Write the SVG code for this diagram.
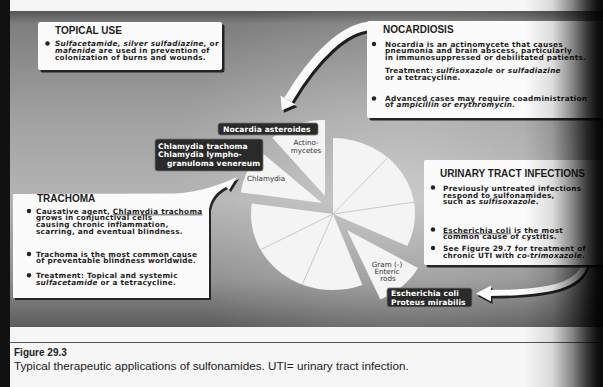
<svg xmlns="http://www.w3.org/2000/svg" width="603" height="387" viewBox="0 0 603 387">
<defs>
  <linearGradient id="panelG" x1="0" y1="11" x2="0" y2="327" gradientUnits="userSpaceOnUse">
    <stop offset="0" stop-color="#555"/>
    <stop offset="0.04" stop-color="#7e7e7e"/>
    <stop offset="0.35" stop-color="#a2a2a2"/>
    <stop offset="0.6" stop-color="#b4b4b4"/>
    <stop offset="0.85" stop-color="#8f8f8f"/>
    <stop offset="1" stop-color="#5c5c5c"/>
  </linearGradient>
  <radialGradient id="glow" cx="400" cy="190" r="230" gradientUnits="userSpaceOnUse">
    <stop offset="0" stop-color="#fff" stop-opacity="0.3"/>
    <stop offset="1" stop-color="#fff" stop-opacity="0"/>
  </radialGradient>
  <linearGradient id="edgeG" x1="525" y1="0" x2="603" y2="0" gradientUnits="userSpaceOnUse">
    <stop offset="0" stop-color="#000" stop-opacity="0"/>
    <stop offset="0.35" stop-color="#000" stop-opacity="0.12"/>
    <stop offset="0.6" stop-color="#000" stop-opacity="0.45"/>
    <stop offset="0.8" stop-color="#000" stop-opacity="0.78"/>
    <stop offset="0.92" stop-color="#000" stop-opacity="0.93"/>
    <stop offset="1" stop-color="#000" stop-opacity="0.97"/>
  </linearGradient>
  <style>
    .title{font-family:"Liberation Sans",Arial,sans-serif;font-weight:bold;font-size:10px;fill:#1e1e1e}
    .body{font-family:"DejaVu Sans",sans-serif;font-weight:bold;font-size:7.3px;letter-spacing:0.28px;fill:#1e1e1e}
    .lbl{font-family:"DejaVu Sans",sans-serif;font-weight:bold;font-size:7.6px;letter-spacing:0.1px;fill:#fff}
    .pt{font-family:"DejaVu Sans",sans-serif;font-size:7.2px;fill:#333}
    .i{font-style:italic}
    .box{fill:#fbfbfb}
    .shadow{fill:#242424}
    .tag{fill:#2a2a2a;stroke:#777;stroke-width:0.8}
    .slice{fill:#f4f4f4}
    .div{stroke:#bcbcbc;stroke-width:0.8}
    .dot{fill:#222}
    .cap{font-family:"Liberation Sans",Arial,sans-serif;fill:#222}
  </style>
</defs>

<!-- background -->
<rect width="603" height="387" fill="#f6f6f6"/>
<rect x="10" y="11" width="593" height="316" fill="url(#panelG)"/>
<rect x="10" y="11" width="593" height="316" fill="url(#glow)"/>
<rect x="0" y="0" width="10" height="387" fill="#111"/>
<line x1="10" y1="342.5" x2="603" y2="342.5" stroke="#555" stroke-width="1"/>
<text class="cap" x="14" y="356" font-size="10" font-weight="bold">Figure 29.3</text>
<text class="cap" x="14" y="370" font-size="11.7">Typical therapeutic applications of sulfonamides. UTI= urinary tract infection.</text>

<!-- pie -->
<g id="pie">
  <path class="slice" d="M333,214 L333,138 A82,76 0 0 1 407.3,246.1 Z"/>
  <path class="slice" d="M333,214 L362.4,285 A82,76 0 0 1 251.8,203.4 Z"/>
  <path class="slice" d="M347,230 L418,268 A82,76 0 0 1 380.4,299.4 Z"/>
  <path class="slice" d="M325,196 L272.3,137.8 A82,76 0 0 1 325,120 Z"/>
  <path class="slice" d="M322,203 L240.8,192.4 A82,76 0 0 1 261.1,152.1 Z"/>
  <line class="div" x1="333" y1="214" x2="387.9" y2="157.5"/>
  <line class="div" x1="333" y1="214" x2="414" y2="202.1"/>
  <line class="div" x1="333" y1="214" x2="302.3" y2="284.5"/>
  <line class="div" x1="333" y1="214" x2="260.6" y2="249.7"/>
  <text class="pt" text-anchor="middle"><tspan x="306" y="145">Actino-</tspan><tspan x="306" y="153">mycetes</tspan></text>
  <text class="pt" x="247" y="180.5">Chlamydia</text>
  <text class="pt" text-anchor="middle"><tspan x="387" y="267">Gram (-)</tspan><tspan x="387" y="274">Enteric</tspan><tspan x="388" y="281">rods</tspan></text>
</g>

<!-- connectors -->
<g id="connectors">
  <g transform="translate(2,2.5)" fill="#1e1e1e" stroke="#1e1e1e">
    <path d="M372,26 C345,26 314,56 288,100" fill="none" stroke-width="8.5"/>
    <polygon points="281.9,110.3 295.5,104.4 280.5,95.6" stroke="none"/>
  </g>
  <path d="M372,26 C345,26 314,56 288,100" fill="none" stroke="#fafafa" stroke-width="8.5"/>
  <polygon points="281.9,110.3 295.5,104.4 280.5,95.6" fill="#fafafa"/>

  <g transform="translate(1.5,2.5)" fill="#1e1e1e" stroke="#1e1e1e">
    <path d="M586,258 C584,282 560,293 489,293" fill="none" stroke-width="6"/>
    <polygon points="476,293.5 491,285.5 491,301.5" stroke="none"/>
  </g>
  <path d="M586,258 C584,282 560,293 489,293" fill="none" stroke="#fafafa" stroke-width="6"/>
  <polygon points="476,293.5 491,285.5 491,301.5" fill="#fafafa"/>
</g>

<!-- TOPICAL USE -->
<g id="topical-use">
  <rect class="shadow" x="40.5" y="24.5" width="184" height="48" rx="2"/>
  <rect class="box" x="38" y="22" width="184" height="48" rx="2"/>
  <text class="title" x="55" y="34">TOPICAL USE</text>
  <circle class="dot" cx="47.5" cy="43.5" r="2.2"/>
  <text class="body">
    <tspan x="55" y="46">
      <tspan class="i">Sulfacetamide, silver sulfadiazine,</tspan> or</tspan>
    <tspan x="55" y="52.8"><tspan class="i">mafenide</tspan> are used in prevention of</tspan>
    <tspan x="55" y="59.6">colonization of burns and wounds.</tspan>
  </text>
</g>

<!-- NOCARDIOSIS -->
<g id="nocardiosis">
  <rect class="shadow" x="369.5" y="23.5" width="240" height="97" rx="2"/>
  <rect class="box" x="367" y="21" width="240" height="97" rx="2"/>
  <text class="title" x="383" y="33">NOCARDIOSIS</text>
  <circle class="dot" cx="374" cy="44" r="2.2"/>
  <circle class="dot" cx="374" cy="98.5" r="2.2"/>
  <text class="body">
    <tspan x="385" y="46.5">Nocardia is an actinomycete that causes</tspan>
    <tspan x="385" y="53.2">pneumonia and brain abscess, particularly</tspan>
    <tspan x="385" y="59.9">in immunosuppressed or debilitated patients.</tspan>
    <tspan x="385" y="73">Treatment: <tspan class="i">sulfisoxazole</tspan> or <tspan class="i">sulfadiazine</tspan></tspan>
    <tspan x="385" y="79.8">or a tetracycline.</tspan>
    <tspan x="385" y="100.5">Advanced cases may require coadministration</tspan>
    <tspan x="385" y="107.3">of <tspan class="i">ampicillin or erythromycin.</tspan></tspan>
  </text>
</g>

<!-- TRACHOMA -->
<g id="trachoma">
  <path class="shadow" transform="translate(2,2)" d="M13,194 L175,193.5 C200,192 220,185 237,177 L229,190 L226,187 C216,192 211,199 209,209 L209,298 L13,298 Z"/>
  <path class="box" d="M13,194 L175,193.5 C200,192 220,185 237,177 L229,190 L226,187 C216,192 211,199 209,209 L209,298 L13,298 Z"/>
  <text class="title" x="37" y="201.5">TRACHOMA</text>
  <circle class="dot" cx="29" cy="211" r="2.2"/>
  <circle class="dot" cx="29" cy="254" r="2.2"/>
  <circle class="dot" cx="29" cy="275.3" r="2.2"/>
  <text class="body">
    <tspan x="36" y="213.5">Causative agent, <tspan text-decoration="underline">Chlamydia trachoma</tspan></tspan>
    <tspan x="36" y="220.3">grows in conjunctival cells</tspan>
    <tspan x="36" y="227.1">causing chronic inflammation,</tspan>
    <tspan x="36" y="233.9">scarring, and eventual blindness.</tspan>
    <tspan x="36" y="256.5">Trachoma is the most common cause</tspan>
    <tspan x="36" y="263.3">of preventable blindness worldwide.</tspan>
    <tspan x="36" y="277.8">Treatment: Topical and systemic</tspan>
    <tspan x="36" y="284.6"><tspan class="i">sulfacetamide</tspan> or a tetracycline.</tspan>
  </text>
</g>

<!-- URINARY TRACT INFECTIONS -->
<g id="uti">
  <rect class="shadow" x="426.5" y="162.5" width="190" height="105" rx="2"/>
  <rect class="box" x="424" y="160" width="190" height="105" rx="2"/>
  <text class="title" x="440" y="177">URINARY TRACT INFECTIONS</text>
  <circle class="dot" cx="433" cy="187.5" r="2.2"/>
  <circle class="dot" cx="433" cy="229.5" r="2.2"/>
  <circle class="dot" cx="433" cy="248" r="2.2"/>
  <text class="body">
    <tspan x="443" y="191">Previously untreated infections</tspan>
    <tspan x="443" y="197.7">respond to sulfonamides,</tspan>
    <tspan x="443" y="204.4">such as <tspan class="i">sulfisoxazole</tspan>.</tspan>
    <tspan x="443" y="232.5"><tspan text-decoration="underline">Escherichia coli</tspan> is the most</tspan>
    <tspan x="443" y="239.2">common cause of cystitis.</tspan>
    <tspan x="443" y="251">See Figure 29.7 for treatment of</tspan>
    <tspan x="443" y="257.7">chronic UTI with <tspan class="i">co-trimoxazole</tspan>.</tspan>
  </text>
</g>

<!-- organism labels -->
<g id="label-nocardia-asteroides">
  <rect class="tag" x="218" y="123" width="100" height="12" rx="2.5"/>
  <text class="lbl" x="223" y="132">Nocardia asteroides</text>
</g>
<g id="label-chlamydia">
  <rect class="tag" x="155" y="139" width="108" height="32" rx="2.5"/>
  <text class="lbl">
    <tspan x="158" y="148.5">Chlamydia trachoma</tspan>
    <tspan x="158" y="157">Chlamydia lympho-</tspan>
    <tspan x="167" y="165.5">granuloma venereum</tspan>
  </text>
</g>
<g id="label-ecoli-proteus">
  <rect class="tag" x="387" y="288" width="85" height="19" rx="2.5"/>
  <text class="lbl">
    <tspan x="391" y="296">Escherichia coli</tspan>
    <tspan x="391" y="304.5">Proteus mirabilis</tspan>
  </text>
</g>

<!-- right edge darkening -->
<rect x="525" y="0" width="78" height="387" fill="url(#edgeG)"/>
</svg>
